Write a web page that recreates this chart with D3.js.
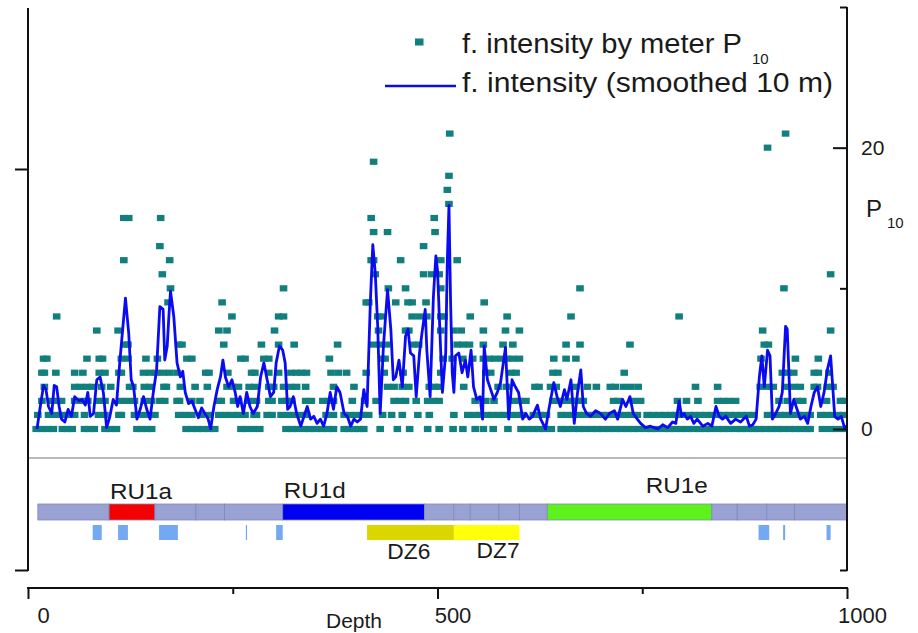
<!DOCTYPE html>
<html><head><meta charset="utf-8">
<script src="https://cdn.jsdelivr.net/npm/d3@7"></script>
<style>
body{margin:0;background:#fff}
svg{display:block}
text{font-family:Arial,"Liberation Sans",sans-serif;fill:#1a1a1a}
</style>
</head><body>
<svg id="chart" width="918" height="633"></svg>
<script>
// ---------------- DATA ----------------
const depthTicks = [0, 500, 1000];
const depthMinorTicks = [250, 750];
const p10Ticks = [0, 20];
const p10MinorTicks = [10, 30];

// smoothed fracture intensity (10 m window)
const smoothDepth = [11,15,19,22,25,29,32,35,38,41, 45,49,53,57,62,66,70,73,76,80,
 84,88,92,96,100,104,108,112,117,119, 123,126,129,133,137,141,145,149,153,157,
 161,165,167,170,172,174,178,182,186,189, 192,196,200,204,208,212,216,220,223,227,
 231,235,238,241,245,249,253,256,259,263, 267,271,275,280,284,288,292,296,300,303,
 307,311,314,317,320,324,328,333,337,341, 345,349,353,357,361,365,369,373,377,381,
 386,390,394,398,402,406,410,414,418,421, 424,427,430,434,439,443,446,449,453,457,
 461,464,467,471,474,478,481,485,487,491, 495,498,500,504,506,510,512,514,516,518,
 520,522,526,530,534,537,541,544,548,552, 555,557,561,565,569,573,577,583,587,591,
 595,599,604,608,612,616,622,626,632,636, 642,646,650,655,658,663,667,671,675,678,
 682,687,693,699,705,710,716,720,726,730, 735,739,744,748,754,760,769,775,781,787,
 791,795,798,801,805,809,813,817,824,830, 835,840,844,848,852,858,864,870,877,881,
 885,889,893,896,899,903,906,909,913,917, 921,925,927,931,935,939,943,948,952,956,
 960,964,968,972,976,980,982,985,989,993, 997,1000];
const smoothP10 = [0,1.6,3.1,2.8,1.6,1.1,3.1,3.0,1.6,0.7, 0.5,1.4,0.9,2.3,2.0,2.1,1.7,2.6,0.9,1.1,
 3.5,3.7,2.6,0.1,0.9,2.1,1.7,4.7,8.0,9.3, 6.8,3.5,3.0,0.7,1.4,2.3,1.4,0.7,2.6,4.2,
 8.7,8.5,4.9,5.9,8.0,9.8,8.0,4.7,3.7,4.1, 2.6,1.8,2.0,1.4,0.8,1.5,1.1,0.7,0,1.6,
 2.8,3.7,4.9,3.7,3.0,3.5,2.6,1.6,2.3,1.1, 2.6,1.6,1.1,1.6,3.7,4.7,3.5,2.3,2.6,4.7,
 5.9,5.6,4.7,1.4,1.6,2.3,1.1,0.2,0.9,1.6, 0.7,0.9,0.4,0.7,0.2,1.1,2.6,1.4,3.0,2.6,
 1.1,0.9,0.2,0.7,0.5,0.7,2.8,1.6,9.0,13.1, 11.1,7.3,1.1,5.9,9.9,7.1,3.5,3.7,4.9,3.0,
 6.6,7.1,5.4,5.2,2.3,5.4,6.8,8.5,5.6,2.3, 9.4,12.3,11.3,5.4,2.6,5.4,12,15.9,9,4,
 2.6,5.2,5.4,4.0,4.9,3.7,5.6,3.0,2.1,2.3, 0.7,5.9,3.5,2.8,2.1,2.6,3.3,5.8,0.7,3.5,
 3.0,2.6,0.7,1.1,0.7,0.9,1.7,0.7,0,1.4, 3.3,2.3,1.6,2.8,2.1,3.5,0.4,2.6,4.2,1.6,
 1.1,0.9,1.3,1.1,0.7,1.1,1.3,0.7,2.1,1.6, 2.3,1.1,0.7,0.4,0.1,0.2,0,0.3,0.1,0.5,
 0.4,2.0,0.9,1.1,0.7,0.9,0.4,0.7,0.2,0.4, 0.2,1.6,0.9,0.7,0.9,0.4,0.7,0.5,0.9,0.2,
 0.3,0.7,3.7,5.2,3.0,5.6,5.2,0.7,1.1,1.6, 2.6,7.3,7.1,1.1,2.1,1.4,0.7,0.9,0.4,1.6,
 2.6,3.0,1.6,2.6,4.2,5.2,3.5,0.9,0.7,0.9, 0.1,0.2];

// fracture intensity by meter: [P10 value, depths where it occurs]
const meterP10 = [
 [0,[10,17,24,31,42,48,54,69,75,81,94,101,108,133,139,145,151,193,200,207,214,221,228,260,267,275,283,315,322,329,337,344,351,359,366,373,386,392,398,404,410,430,451,466,488,502,519,531,546,556,568,586,602,609,617,624,631,639,651,658,666,673,680,688,695,702,710,717,724,732,739,746,754,761,768,776,783,790,798,805,812,820,827,834,842,849,856,864,871,878,886,893,900,908,915,922,930,937,944,952,955,970,979,987,996]],
 [1,[12,25,33,41,49,57,69,86,94,111,114,130,138,146,155,184,192,200,212,222,233,241,249,257,265,276,279,292,298,309,317,325,333,340,364,373,386,393,401,409,416,433,444,457,476,490,520,537,545,552,560,567,575,582,589,597,604,617,625,633,651,658,665,672,679,687,694,701,708,715,722,730,737,744,756,763,771,778,785,792,799,807,814,821,828,835,843,850,857,864,871,879,886,903,910,918,925,933,940,947,955,968,975,982,989,996]],
 [2,[17,29,35,41,57,65,73,86,94,114,122,130,142,151,161,167,182,185,200,210,233,236,251,257,270,279,294,298,310,316,322,339,346,360,367,373,396,411,425,447,454,461,474,488,495,502,546,559,569,592,600,608,641,648,656,663,671,678,715,721,739,748,793,804,818,842,849,856,864,917,927,939,946,975,992,996]],
 [3,[20,57,64,72,79,90,101,124,128,142,149,166,169,186,204,219,243,250,257,270,277,294,300,312,320,328,339,373,398,439,447,457,465,490,496,502,532,574,584,619,624,638,645,669,683,694,711,717,727,736,745,815,842,894,902,910,927,935,943,960,964,976,983]],
 [4,[17,20,34,57,67,87,94,111,114,141,149,157,165,173,182,217,221,244,273,277,294,306,321,328,334,340,370,379,389,413,435,458,504,559,565,590,596,641,647,728,921,928,935,960,965,978]],
 [5,[19,23,72,87,91,114,122,144,158,194,200,260,265,288,294,368,432,436,507,518,531,543,556,563,570,578,585,592,600,642,657,669,895,937,965]],
 [6,[118,122,184,188,239,285,306,325,378,422,430,438,470,477,524,531,539,556,580,592,657,674,735,899,904]],
 [7,[84,110,233,243,301,428,461,465,504,520,529,556,583,600,897,980]],
 [8,[35,249,306,312,427,432,469,478,487,504,508,540,585,663,795]],
 [9,[171,237,413,416,449,464,469,486,557]],
 [10,[174,312,440,461,504,674,923]],
 [11,[164,424,483,493,502,980]],
 [12,[117,173,419,422,455,504,524]],
 [13,[161,483]],
 [14,[422,439,497]],
 [15,[117,123,162,419,496]],
 [16,[514]],
 [17,[512]],
 [18,[514]],
 [19,[422]],
 [20,[903]],
 [21,[515,925]]
];

// lithological units (strip)
const unitStart = [12,99,155,205,240,311,484,520,540,575,600,634,835,866,902,936];
const unitEnd   = [99,155,205,240,311,484,520,540,575,600,634,835,866,902,936,1000];
const unitName  = ["","RU1a","","","","RU1d","","","","","","RU1e","","","",""];
// small zones below the strip
const zoneStart = [79,110,160,266,303,892,922,975];
const zoneEnd   = [90,122,183,267.3,311,905,924.5,980];
// deformation zones
const dzName  = ["DZ6","DZ7"];
const dzStart = [414,520];
const dzEnd   = [520,600];

// ---------------- DRAW ----------------
const svg = d3.select("#chart");
svg.append("rect").attr("width",918).attr("height",633).attr("fill","#fff");

const x = d3.scaleLinear().domain([0,1000]).range([28,847]);
const y = d3.scaleLinear().domain([0,30]).range([429,7]);

const teal = "#107f7e", lineBlue = "#0b0bf2";

// points
const pts = [];
meterP10.forEach(([v, ds]) => ds.forEach(d => pts.push({d, v})));
svg.append("g").selectAll("rect").data(pts).join("rect")
  .attr("x", p => x(p.d) - 3.8).attr("y", p => y(p.v) - 3.1)
  .attr("width", 7.6).attr("height", 6.2).attr("fill", teal);

// smoothed line
const lineData = smoothDepth.map((d,i) => [d, smoothP10[i]]);
svg.append("path").datum(lineData)
  .attr("fill","none").attr("stroke",lineBlue).attr("stroke-width",2.8)
  .attr("stroke-linejoin","round")
  .attr("d", d3.line().x(p => x(p[0])).y(p => y(p[1])));

// separator line
svg.append("line").attr("x1",28).attr("x2",847).attr("y1",458).attr("y2",458)
  .attr("stroke","#a3a3a3").attr("stroke-width",1.6);

// strip
const unitColor = n => n==="RU1a" ? "#f50000" : n==="RU1d" ? "#0000f0" : n==="RU1e" ? "#5ef21c" : "#99a2d2";
const units = unitStart.map((s,i) => ({s, e: unitEnd[i], n: unitName[i]}));
svg.append("g").selectAll("rect").data(units).join("rect")
  .attr("x", u => x(u.s)).attr("y", 504).attr("width", u => x(u.e) - x(u.s)).attr("height", 16)
  .attr("fill", u => unitColor(u.n)).attr("stroke", "#8089bb").attr("stroke-width", 0.8);

const zones = zoneStart.map((s,i) => ({s, e: zoneEnd[i]}));
svg.append("g").selectAll("rect").data(zones).join("rect")
  .attr("x", z => x(z.s)).attr("y", 525).attr("width", z => Math.max(1.2, x(z.e) - x(z.s))).attr("height", 15)
  .attr("fill", "#72a9f2");

const dzs = dzName.map((n,i) => ({n, s: dzStart[i], e: dzEnd[i]}));
svg.append("g").selectAll("rect").data(dzs).join("rect")
  .attr("x", z => x(z.s)).attr("y", 525).attr("width", z => x(z.e) - x(z.s)).attr("height", 15)
  .attr("fill", z => z.n==="DZ6" ? "#dcd600" : "#ffff0a");

// strip labels
const labelFont = 22;
const stripLabels = [
  {t:"RU1a", d:138, yb:499}, {t:"RU1d", d:350, yb:498}, {t:"RU1e", d:792, yb:493},
  {t:"DZ6", d:465, yb:559}, {t:"DZ7", d:574, yb:558}
];
stripLabels.forEach(l => {
  const w = l.t.length === 4 ? 62 : 43;
  svg.append("text").attr("x", x(l.d) - w/2).attr("y", l.yb)
    .attr("font-size", labelFont).attr("textLength", w).attr("lengthAdjust","spacingAndGlyphs")
    .text(l.t);
});

// left axis (bracket)
const leftScale = d3.scaleLinear().domain([0,1]).range([570,169]);
const gl = svg.append("g").attr("transform","translate(28,0)")
  .call(d3.axisLeft(leftScale).tickValues([0,1]).tickSize(13).tickFormat(""));
gl.select(".domain").remove();
gl.selectAll(".tick line").attr("stroke","#111").attr("stroke-width",2);
svg.append("line").attr("x1",28).attr("x2",28).attr("y1",8).attr("y2",571)
  .attr("stroke","#111").attr("stroke-width",2);

// right axis
const gr = svg.append("g").attr("transform","translate(847,0)")
  .call(d3.axisRight(y).tickValues(p10Ticks).tickSizeInner(-14).tickSizeOuter(0).tickPadding(14));
gr.select(".domain").remove();
gr.selectAll(".tick line").attr("stroke","#111").attr("stroke-width",2);
gr.selectAll(".tick text").attr("font-size",21).attr("fill","#1a1a1a")
  .attr("font-family","Arial, 'Liberation Sans', sans-serif");
const grm = svg.append("g").attr("transform","translate(847,0)")
  .call(d3.axisRight(y).tickValues(p10MinorTicks).tickSizeInner(-7).tickSizeOuter(0).tickFormat(""));
grm.select(".domain").remove();
grm.selectAll(".tick line").attr("stroke","#111").attr("stroke-width",2);
svg.append("g").attr("transform","translate(847,0)")
  .call(d3.axisRight(leftScale).tickValues([0]).tickSizeInner(-7).tickSizeOuter(0).tickFormat(""))
  .call(g => { g.select(".domain").remove(); g.selectAll(".tick line").attr("stroke","#111").attr("stroke-width",2); });
svg.append("line").attr("x1",847).attr("x2",847).attr("y1",7).attr("y2",571)
  .attr("stroke","#111").attr("stroke-width",2);

// right axis title P10
svg.append("text").attr("x",866).attr("y",217).attr("font-size",24).text("P");
svg.append("text").attr("x",887).attr("y",228).attr("font-size",15).text("10");

// bottom axis
const gb = svg.append("g").attr("transform","translate(0,588)")
  .call(d3.axisBottom(x).tickValues(depthTicks).tickSize(11).tickFormat(d3.format("d")));
gb.select(".domain").attr("stroke","#111").attr("stroke-width",2).attr("d","M27,0H848");
gb.selectAll(".tick line").attr("stroke","#111").attr("stroke-width",2);
gb.selectAll(".tick text").attr("font-size",22).attr("y",35).attr("dy",0).attr("dx",15)
  .attr("fill","#1a1a1a").attr("font-family","Arial, 'Liberation Sans', sans-serif");
const gbm = svg.append("g").attr("transform","translate(0,588)")
  .call(d3.axisBottom(x).tickValues(depthMinorTicks).tickSize(6).tickFormat(""));
gbm.select(".domain").remove();
gbm.selectAll(".tick line").attr("stroke","#111").attr("stroke-width",2);

svg.append("text").attr("x",354).attr("y",628).attr("text-anchor","middle")
  .attr("font-size",21).text("Depth");

// legend
svg.append("rect").attr("x",415).attr("y",38.5).attr("width",8.5).attr("height",7).attr("fill",teal);
svg.append("text").attr("x",462).attr("y",53).attr("font-size",27)
  .attr("textLength",280).attr("lengthAdjust","spacingAndGlyphs").text("f. intensity by meter P");
svg.append("text").attr("x",752).attr("y",64).attr("font-size",15).text("10");
svg.append("line").attr("x1",385).attr("x2",456).attr("y1",86).attr("y2",86)
  .attr("stroke",lineBlue).attr("stroke-width",2.6);
svg.append("text").attr("x",462).attr("y",92).attr("font-size",27)
  .attr("textLength",371).attr("lengthAdjust","spacingAndGlyphs").text("f. intensity (smoothed 10 m)");
</script>
</body></html>
